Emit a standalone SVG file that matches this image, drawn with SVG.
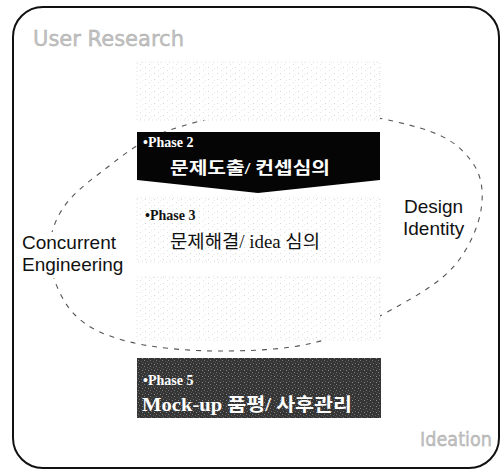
<svg xmlns="http://www.w3.org/2000/svg" width="502" height="471" viewBox="0 0 502 471">
  <defs>
    <!-- sparse grey speckle used for the pale phase panels -->
    <pattern id="speckle" width="9" height="6" patternUnits="userSpaceOnUse">
      <rect width="9" height="6" fill="#ffffff"/>
      <rect x="1" y="1" width="1" height="1" fill="#d6d6d6"/>
      <rect x="5" y="4" width="1" height="1" fill="#e2e2e2"/>
      <rect x="7" y="2" width="1" height="1" fill="#ebebeb"/>
    </pattern>
    <!-- coarse grain for the dark final panel -->
    <pattern id="grain" width="6" height="6" patternUnits="userSpaceOnUse">
      <rect width="6" height="6" fill="#353535"/>
      <rect x="0" y="0" width="1" height="1" fill="#7a7a7a"/>
      <rect x="3" y="1" width="1" height="1" fill="#5e5e5e"/>
      <rect x="1" y="3" width="1" height="1" fill="#6c6c6c"/>
      <rect x="4" y="4" width="1" height="1" fill="#8a8a8a"/>
      <rect x="5" y="2" width="1" height="1" fill="#505050"/>
    </pattern>
    <style>
      .frame { fill: #ffffff; stroke: #111111; stroke-width: 2; }
      .pale { fill: url(#speckle); stroke: #e0e0e0; stroke-width: 1; stroke-dasharray: 1 3; }
      .loop { fill: none; stroke: #555555; stroke-width: 1.1; stroke-dasharray: 5 6; }
      .stage { font-family: "DejaVu Sans", Verdana, sans-serif; fill: #c2c2c2; stroke: #a8a8a8; stroke-width: 0.4; }
      .phase { font-family: "Liberation Serif", "Noto Sans CJK KR", serif; font-weight: bold; font-size: 14px; }
      .kor { font-family: "Liberation Serif", "Noto Sans CJK KR", serif; }
      .side { font-family: "Liberation Sans", Arial, sans-serif; font-size: 19px; fill: #111111; }
    </style>
  </defs>

  <!-- outer rounded frame -->
  <rect class="frame" x="13" y="7" width="486" height="461" rx="30" ry="30"/>

  <text class="stage" x="33" y="46" font-size="22" textLength="151" lengthAdjust="spacingAndGlyphs">User Research</text>
  <text class="stage" x="420" y="446" font-size="20" textLength="72" lengthAdjust="spacingAndGlyphs">Ideation</text>

  <!-- dashed iteration loop -->
  <g id="connectors">
    <path class="loop" d="M290,108 C331.7,107.7 389.7,119 420,128 C450.3,137 461.8,148.3 472,162 C482.2,175.7 483.8,192.8 481,210 C478.2,227.2 468.5,249.2 455,265 C441.5,280.8 423,292.2 400,305 C377,317.8 347,334.3 317,342 C287,349.7 251.2,351 220,351 C188.8,351 154.2,348 130,342 C105.8,336 88.3,328.3 75,315 C61.7,301.7 52.5,279 50,262 C47.5,245 51.7,227.8 60,213 C68.3,198.2 81.7,186.8 100,173 C118.3,159.2 138.3,140.8 170,130 C201.7,119.2 248.3,108.3 290,108 Z"/>
  </g>

  <g id="phase1">
    <rect class="pale" x="137" y="62" width="243" height="58"/>
  </g>

  <g id="phase2">
    <polygon points="137,132 380,132 380,180 258,193 137,180" fill="#050505"/>
    <text class="phase" x="143" y="147" fill="#ffffff">•Phase 2</text>
    <text class="kor" x="170" y="174" font-size="17" font-weight="bold" fill="#ffffff" textLength="160" lengthAdjust="spacingAndGlyphs">문제도출/ 컨셉심의</text>
  </g>

  <g id="phase3">
    <rect class="pale" x="137" y="198" width="243" height="64"/>
    <text class="phase" x="145" y="220" font-size="13" fill="#111111">•Phase 3</text>
    <text class="kor" x="170" y="248" font-size="18" fill="#111111" textLength="150" lengthAdjust="spacingAndGlyphs">문제해결/ idea 심의</text>
  </g>

  <g id="phase4">
    <rect class="pale" x="137" y="277" width="243" height="63"/>
  </g>

  <g id="phase5">
    <rect x="137" y="358" width="244" height="60" fill="url(#grain)"/>
    <text class="phase" x="143" y="385" fill="#ffffff">•Phase 5</text>
    <text class="kor" x="142" y="411" font-size="18" font-weight="bold" fill="#ffffff" textLength="210" lengthAdjust="spacingAndGlyphs">Mock-up 품평/ 사후관리</text>
  </g>

  <g id="concurrent-engineering">
    <rect x="20" y="232" width="104" height="46" fill="#ffffff"/>
    <text class="side" x="22" y="249">Concurrent</text>
    <text class="side" x="22" y="271">Engineering</text>
  </g>

  <g id="design-identity">
    <rect x="400" y="196" width="68" height="44" fill="#ffffff"/>
    <text class="side" x="404" y="213">Design</text>
    <text class="side" x="403" y="235">Identity</text>
  </g>
</svg>
